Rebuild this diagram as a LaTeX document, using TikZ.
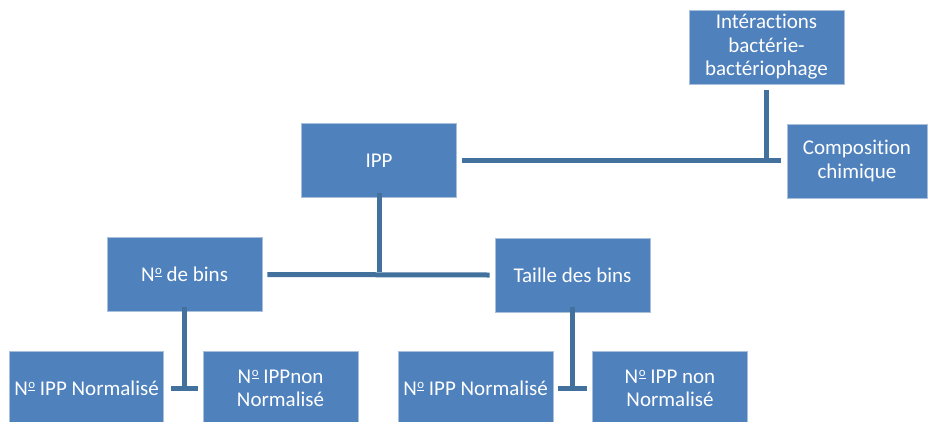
\documentclass[tikz,border=0pt]{standalone}
\usepackage{fontspec}
\setmainfont[Ligatures=NoCommon]{Carlito}
\definecolor{boxfill}{HTML}{4F81BD}
\definecolor{boxline}{HTML}{A9C0DC}
\definecolor{conn}{HTML}{41719C}
\newcommand\numo{N\kern0.6pt\raisebox{7pt}{\fontsize{12.8pt}{12.8pt}\selectfont\underline{o}}}
\begin{document}
\begin{tikzpicture}[x=1pt,y=-1pt,
  box/.style={draw=boxline,line width=0.8pt,fill=boxfill,text=white,align=center,
    minimum width=155pt,minimum height=74pt,inner sep=2pt,
    font=\fontsize{21pt}{23.5pt}\selectfont},
  link/.style={draw=conn,line width=5pt}]
\useasboundingbox (0,0) rectangle (929,421);
\clip (0,0) rectangle (929,421);
\node[box] (inter) at (766.5,47) {Intéractions\\bactérie-\\bactériophage};
\node[box,minimum width=140pt] (comp) at (857,161) {Composition\\chimique};
\node[box] (ipp) at (379,160.5) {IPP};
\node[box] (bins) at (184.5,274.5) {\numo{} de bins};
\node[box] (taille) at (572.5,275) {Taille des bins};
\node[box,minimum width=154pt] (n1) at (86.5,388.5) {\numo{} IPP Normalisé};
\node[box] (n2) at (280.5,388.5) {\numo{} IPPnon\\Normalisé};
\node[box] (n3) at (475.5,388.5) {\numo{} IPP Normalisé};
\node[box] (n4) at (670,388.5) {\numo{} IPP non\\Normalisé};
% top-right junction
\coordinate (j1) at (inter.south |- ipp.east);
\draw[link] ([xshift=5pt]ipp.east) -- ([xshift=-6pt]comp.west |- ipp.east);
\draw[link] ([yshift=-6pt]inter.south) -- ([yshift=2.5pt]j1);
% ipp down
\coordinate (j2) at (ipp.south |- bins.east);
\draw[link] ([yshift=5pt]ipp.south) -- ([yshift=2.5pt]j2);
\draw[link] ([xshift=5pt]bins.east) -- ([xshift=-5pt]taille.west);
% bins down
\coordinate (j3) at (bins.south |- n1.east);
\draw[link] ([yshift=5pt]bins.south) -- ([yshift=2.5pt]j3);
\draw[link] ([xshift=7pt]n1.east) -- ([xshift=-5pt]n2.west);
% taille down
\coordinate (j4) at (taille.south |- n3.east);
\draw[link] ([yshift=5pt]taille.south) -- ([yshift=2.5pt]j4);
\draw[link] ([xshift=5pt]n3.east) -- ([xshift=-5pt]n4.west);
\end{tikzpicture}
\end{document}
